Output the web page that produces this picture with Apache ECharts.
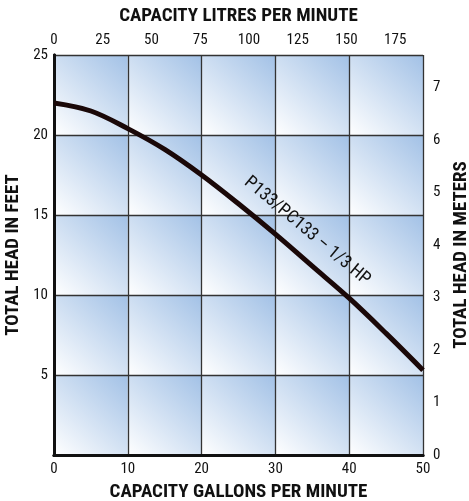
<!DOCTYPE html>
<html>
<head>
<meta charset="utf-8">
<script src="https://cdn.jsdelivr.net/npm/echarts@6/dist/echarts.min.js"></script>
<style>html,body{margin:0;padding:0;background:#fff}#c{width:469px;height:501px}</style>
</head>
<body>
<div id="c"></div>
<script>
// Data
var gallons = [0, 5, 10, 15, 20, 25, 30, 35, 40, 45, 50];
var headFeet = [22.0, 21.5, 20.4, 19.1, 17.5, 15.7, 13.8, 11.8, 9.8, 7.6, 5.3];
var curveLabel = 'P133/PC133 \u2013 1/3 HP';
var labelAt = [34.3, 14.0];
var gpmCells = [0, 10, 20, 30, 40];
var feetCells = [0, 5, 10, 15, 20];
var cellW = 10, cellH = 5;
var gpmMax = 50, feetMax = 25;
var litresPerGallon = 3.785;
var feetPerMeter = 3.2808;

var FONT = "'Roboto Condensed',sans-serif";

var cells = [];
gpmCells.forEach(function (x) { feetCells.forEach(function (y) { cells.push([x, y]); }); });

var chart = echarts.init(document.getElementById('c'));
var axisLine = { show: true, lineStyle: { color: '#111', width: 3 } };
var splitLine = { show: true, lineStyle: { color: '#333', width: 1.3 } };
var lbl = { color: '#111', fontSize: 15, fontFamily: FONT };
var nm = { color: '#111', fontSize: 19, fontWeight: 'bold', fontFamily: FONT };

chart.setOption({
  animation: false,
  grid: { left: 54, right: 46, top: 55, bottom: 46, containLabel: false, outerBoundsMode: 'none' },
  xAxis: [
    { type: 'value', position: 'bottom', min: 0, max: gpmMax, interval: 10, z: 3,
      name: 'CAPACITY GALLONS PER MINUTE', nameLocation: 'middle', nameGap: 28, nameTextStyle: nm,
      axisLine: axisLine, axisTick: { show: false }, splitLine: splitLine,
      axisLabel: Object.assign({ margin: 7 }, lbl) },
    { type: 'value', position: 'top', min: 0, max: gpmMax * litresPerGallon, interval: 25, z: 3,
      name: 'CAPACITY LITRES PER MINUTE', nameLocation: 'middle', nameGap: 29, nameTextStyle: nm,
      axisLine: axisLine, axisTick: { show: false }, splitLine: { show: false },
      axisLabel: Object.assign({ margin: 7, showMaxLabel: false }, lbl) }
  ],
  yAxis: [
    { type: 'value', position: 'left', min: 0, max: feetMax, interval: 5, z: 3,
      name: 'TOTAL HEAD IN FEET', nameLocation: 'middle', nameGap: 22, nameTextStyle: nm,
      axisLine: axisLine, axisTick: { show: false }, splitLine: splitLine,
      axisLabel: Object.assign({ margin: 6, showMinLabel: false }, lbl) },
    { type: 'value', position: 'right', min: 0, max: feetMax / feetPerMeter, interval: 1, z: 3,
      name: 'TOTAL HEAD IN METERS', nameLocation: 'middle', nameGap: 27, nameTextStyle: nm,
      axisLine: axisLine, axisTick: { show: false }, splitLine: { show: false },
      axisLabel: Object.assign({ margin: 10, showMaxLabel: false }, lbl) }
  ],
  series: [
    { type: 'custom', xAxisIndex: 0, yAxisIndex: 0, z: 1, silent: true,
      data: cells,
      renderItem: function (params, api) {
        var x = api.value(0), y = api.value(1);
        var p0 = api.coord([x, y + cellH]);
        var p1 = api.coord([x + cellW, y]);
        return { type: 'rect',
          shape: { x: p0[0], y: p0[1], width: p1[0] - p0[0], height: p1[1] - p0[1] },
          style: { fill: new echarts.graphic.LinearGradient(0, 1, 1, 0, [
            { offset: 0, color: '#ffffff' }, { offset: 1, color: '#a2c1e6' }]) } };
      } },
    { type: 'line', xAxisIndex: 0, yAxisIndex: 0, z: 5, smooth: 0.35, symbol: 'none',
      data: gallons.map(function (g, i) { return [g, headFeet[i]]; }),
      lineStyle: { color: '#1a0808', width: 5 },
      markPoint: { symbol: 'circle', symbolSize: 0, silent: true,
        data: [{ coord: labelAt }],
        label: { show: true, position: 'inside', formatter: curveLabel, rotate: -40,
          color: '#111', fontSize: 18, fontFamily: FONT } } }
  ]
});
</script>
</body>
</html>
